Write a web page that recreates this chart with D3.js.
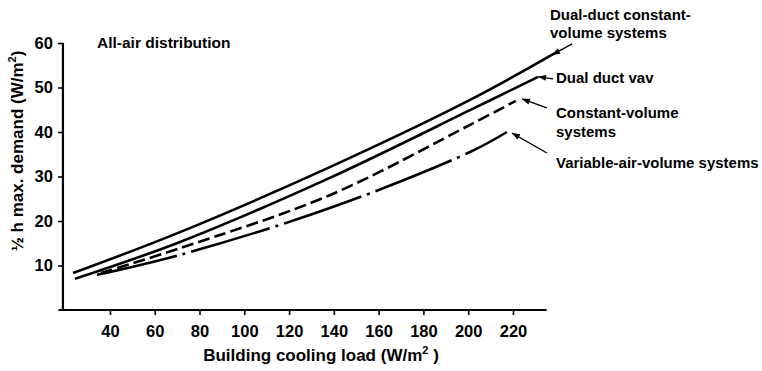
<!DOCTYPE html>
<html>
<head>
<meta charset="utf-8">
<script src="https://cdn.jsdelivr.net/npm/d3@7"></script>
<style>
  html, body { margin: 0; padding: 0; background: #fff; }
  svg { display: block; }
  text { font-family: "Liberation Sans", Arial, Helvetica, sans-serif; fill: #000; }
</style>
</head>
<body>
<svg id="chart" width="762" height="371"></svg>
<script>
// Building cooling load (W/m²) vs ½ h maximum electrical demand (W/m²)
const xTicks = [40, 60, 80, 100, 120, 140, 160, 180, 200, 220];
const yTicks = [10, 20, 30, 40, 50, 60];

const dualDuctCVLoad   = [23.5, 71.3, 138.2, 200.8, 239.7];
const dualDuctCVDemand = [8.3, 17.5, 32.1, 47.2, 58.0];

const dualDuctVavLoad   = [24.4, 71.3, 138.2, 200.8, 231.2];
const dualDuctVavDemand = [7.0, 15.3, 29.7, 44.9, 52.4];

const constantVolumeLoad   = [36.0, 71.3, 138.2, 200.8, 221.3];
const constantVolumeDemand = [8.3, 13.9, 25.8, 41.6, 47.0];

const vavLoad   = [34.2, 71.3, 138.2, 200.8, 217.3];
const vavDemand = [7.9, 12.4, 22.9, 35.5, 40.0];

const svg = d3.select("#chart");

const x = d3.scaleLinear().domain([0, 240]).range([20.4, 20.4 + 240 * 2.239]);
const y = d3.scaleLinear().domain([0, 60]).range([310, 43]);

const xAxisStart = 17, xAxisEnd = 235, yAxisAt = 19;

// axes
const xAxis = svg.append("g").attr("transform", `translate(0,${y(0)})`)
  .call(d3.axisBottom(x).tickValues(xTicks).tickSize(5).tickSizeOuter(0).tickPadding(10));
xAxis.select(".domain").remove();
xAxis.selectAll(".tick line").attr("stroke", "#000").attr("stroke-width", 1.6);
xAxis.selectAll(".tick text").attr("font-size", 16.5).attr("font-weight", "bold").attr("font-family", null);

const yAxis = svg.append("g").attr("transform", `translate(${x(yAxisAt)},0)`)
  .call(d3.axisLeft(y).tickValues(yTicks).tickSize(5).tickSizeOuter(0).tickPadding(5));
yAxis.select(".domain").remove();
yAxis.selectAll(".tick line").attr("stroke", "#000").attr("stroke-width", 1.6);
yAxis.selectAll(".tick text").attr("font-size", 16.5).attr("font-weight", "bold").attr("font-family", null);

svg.append("line")
  .attr("x1", x(xAxisStart)).attr("x2", x(xAxisEnd))
  .attr("y1", y(0)).attr("y2", y(0))
  .attr("stroke", "#000").attr("stroke-width", 2.2);
svg.append("line")
  .attr("x1", x(yAxisAt)).attr("x2", x(yAxisAt))
  .attr("y1", y(0) + 1).attr("y2", y(60))
  .attr("stroke", "#000").attr("stroke-width", 2.2);

// axis titles
const xTitle = svg.append("text")
  .attr("x", 321).attr("y", 361)
  .attr("text-anchor", "middle").attr("font-size", 17).attr("font-weight", "bold");
xTitle.append("tspan").text("Building cooling load (W/m");
xTitle.append("tspan").attr("font-size", 11).attr("dy", -7).text("2");
xTitle.append("tspan").attr("dy", 7).text(" )");

const yTitle = svg.append("text")
  .attr("transform", "translate(23,151) rotate(-90)")
  .attr("text-anchor", "middle").attr("font-size", 17).attr("font-weight", "bold");
yTitle.append("tspan").text("½ h max. demand (W/m");
yTitle.append("tspan").attr("font-size", 11).attr("dy", -7).text("2");
yTitle.append("tspan").attr("dy", 7).text(")");

svg.append("text")
  .attr("x", 97).attr("y", 48)
  .attr("font-size", 15.5).attr("font-weight", "bold")
  .text("All-air distribution");

// curves
const series = [
  { name: "Dual-duct constant-volume systems", load: dualDuctCVLoad, demand: dualDuctCVDemand, dash: null },
  { name: "Dual duct vav", load: dualDuctVavLoad, demand: dualDuctVavDemand, dash: null },
  { name: "Constant-volume systems", load: constantVolumeLoad, demand: constantVolumeDemand, dash: "12,5" },
  { name: "Variable-air-volume systems", load: vavLoad, demand: vavDemand, dash: "82,6,3,6" }
];

const line = d3.line()
  .x(d => x(d[0])).y(d => y(d[1]))
  .curve(d3.curveCatmullRom.alpha(0.5));

series.forEach(s => {
  const pts = s.load.map((v, i) => [v, s.demand[i]]);
  svg.append("path")
    .datum(pts)
    .attr("d", line)
    .attr("fill", "none")
    .attr("stroke", "#000")
    .attr("stroke-width", 2.6)
    .attr("stroke-dasharray", s.dash);
});

// labels with pointer arrows
function arrow(tipX, tipY, tailX, tailY) {
  svg.append("line")
    .attr("x1", tailX).attr("y1", tailY).attr("x2", tipX).attr("y2", tipY)
    .attr("stroke", "#000").attr("stroke-width", 1.4);
  const a = Math.atan2(tipY - tailY, tipX - tailX);
  const len = 8, half = 3;
  const bx = tipX - len * Math.cos(a), by = tipY - len * Math.sin(a);
  const px = -Math.sin(a) * half, py = Math.cos(a) * half;
  svg.append("path")
    .attr("d", `M${tipX},${tipY}L${bx + px},${by + py}L${bx - px},${by - py}Z`)
    .attr("fill", "#000");
}

function endPx(s) {
  const n = s.load.length - 1;
  return [x(s.load[n]), y(s.demand[n])];
}

let [ex, ey] = endPx(series[0]);
arrow(ex - 5, ey + 3, ex + 15, ey - 8);
[ex, ey] = endPx(series[1]);
arrow(ex, ey, ex + 15, ey + 2);
[ex, ey] = endPx(series[2]);
arrow(ex + 6, ey - 2, ex + 31, ey + 7);
[ex, ey] = endPx(series[3]);
arrow(ex + 5, ey + 1, ex + 40, ey + 21);

const labelLines = [
  { x: 550, y: 20, t: "Dual-duct constant-" },
  { x: 550, y: 38, t: "volume systems" },
  { x: 556, y: 83, t: "Dual duct vav" },
  { x: 556, y: 118, t: "Constant-volume" },
  { x: 556, y: 137, t: "systems" },
  { x: 556, y: 168, t: "Variable-air-volume systems" }
];
svg.selectAll("text.lbl").data(labelLines).enter().append("text")
  .attr("class", "lbl")
  .attr("x", d => d.x).attr("y", d => d.y)
  .attr("font-size", 15).attr("font-weight", "bold")
  .text(d => d.t);
</script>
</body>
</html>
